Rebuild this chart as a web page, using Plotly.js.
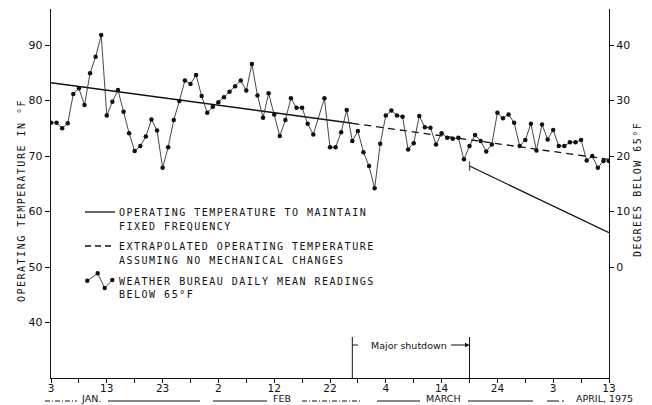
<!DOCTYPE html>
<html>
<head>
<meta charset="utf-8">
<script src="https://cdn.plot.ly/plotly-3.0.1.min.js"></script>
<style>
  html, body { margin: 0; padding: 0; background: #fff; }
  text[style*="DejaVu Sans Mono"] { letter-spacing: 1.5px; }
</style>
</head>
<body>
<div id="chart" style="width:652px;height:405px;"></div>
<script>
// ---- data ----
const firstReadingDate = '1975-01-03';
// Weather Bureau daily mean readings, degrees below 65°F (right axis), one per day
const degreesBelow65 = [
  26.0, 26.0, 25.0, 25.9, 31.2, 32.2, 29.2, 34.9, 37.9, 41.8,
  27.3, 29.8, 31.9, 28.0, 24.1, 20.9, 21.8, 23.5, 26.6, 24.6,
  17.9, 21.6, 26.5, 29.9, 33.6, 33.0, 34.6, 30.8, 27.8, 28.9,
  29.7, 30.6, 31.6, 32.6, 33.6, 31.8, 36.6, 30.9, 26.9, 31.3,
  27.5, 23.6, 26.5, 30.4, 28.7, 28.7, 25.8, 23.9, null, 30.4,
  21.6, 21.6, 24.3, 28.3, 22.7, 24.5, 20.7, 18.2, 14.2, 22.2,
  27.3, 28.2, 27.3, 27.1, 21.2, 22.3, 27.2, 25.2, 25.1, 22.1,
  24.1, 23.3, 23.1, 23.3, 19.4, 21.8, 23.8, 22.7, 20.8, 22.1,
  27.8, 26.8, 27.5, 26.0, 21.8, 22.9, 25.8, 21.0, 25.7, 23.0,
  24.7, 21.8, 21.8, 22.5, 22.5, 22.9, 19.2, 20.0, 17.9, 19.1, 19.1
];
// Operating temperature (left axis, °F)
const fixedFreqDates = ['1975-01-03', '1975-02-26'];
const fixedFreqTemps = [83.2, 75.9];
const extrapolatedDates = ['1975-02-26', '1975-04-13'];
const extrapolatedTemps = [75.9, 69.4];
const afterShutdownDates = ['1975-03-19', '1975-04-13'];
const afterShutdownTemps = [68.2, 56.2];
const shutdownStart = '1975-02-26';
const shutdownEnd = '1975-03-19';

// axis ticks
const xTickDates = ['1975-01-03','1975-01-13','1975-01-23','1975-02-02','1975-02-12','1975-02-22',
                    '1975-03-04','1975-03-14','1975-03-24','1975-04-03','1975-04-13'];
const xTickLabels = ['3','13','23','2','12','22','4','14','24','3','13'];
const xMinorDates = ['1975-01-08','1975-01-18','1975-01-28','1975-02-07','1975-02-17','1975-02-27',
                     '1975-03-09','1975-03-19','1975-03-29','1975-04-08'];
const leftTicks = [40, 50, 60, 70, 80, 90];
const rightTicks = [0, 10, 20, 30, 40];
const monthLabels = ['JAN.', 'FEB', 'MARCH', 'APRIL, 1975'];

// ---- build ----
function addDays(iso, n) {
  const d = new Date(iso + 'T00:00:00Z');
  d.setUTCDate(d.getUTCDate() + n);
  return d.toISOString().slice(0, 10);
}
const readingDates = degreesBelow65.map((_, i) => addDays(firstReadingDate, i));

const BLK = '#111';
const traces = [
  { x: fixedFreqDates, y: fixedFreqTemps, mode: 'lines', yaxis: 'y',
    line: { color: BLK, width: 1.5 }, hoverinfo: 'skip' },
  { x: extrapolatedDates, y: extrapolatedTemps, mode: 'lines', yaxis: 'y',
    line: { color: BLK, width: 1.3, dash: '7px,5px' }, hoverinfo: 'skip' },
  { x: afterShutdownDates, y: afterShutdownTemps, mode: 'lines+markers', yaxis: 'y',
    line: { color: BLK, width: 1.3 },
    marker: { symbol: 'line-ns', size: [7, 0], line: { width: 1.2, color: BLK } }, hoverinfo: 'skip' },
  { x: readingDates, y: degreesBelow65, mode: 'lines+markers', yaxis: 'y2', connectgaps: true,
    line: { color: '#333', width: 0.9 }, marker: { color: BLK, size: 4.5 } }
];

const W = 652, H = 405, L = 51, R = 43, T = 9, B = 27;
const pw = W - L - R, ph = H - T - B;
const px = v => (v - L) / pw;      // pixel -> paper x
const py = v => (H - B - v) / ph;  // pixel -> paper y

const mono = { family: 'DejaVu Sans Mono', size: 10, color: BLK };
const sans = { family: 'DejaVu Sans', size: 9.5, color: BLK };

const annotations = [];
function note(text, x, y, font, extra) {
  annotations.push(Object.assign({ text, x, y, xref: 'paper', yref: 'paper', showarrow: false,
    xanchor: 'left', yanchor: 'middle', font }, extra || {}));
}
// legend text
note('OPERATING TEMPERATURE TO MAINTAIN', px(116.5), py(212.5), mono);
note('FIXED FREQUENCY', px(116.5), py(226), mono);
note('EXTRAPOLATED OPERATING TEMPERATURE', px(116.5), py(246), mono);
note('ASSUMING NO MECHANICAL CHANGES', px(116.5), py(260), mono);
note('WEATHER BUREAU DAILY MEAN READINGS', px(116.5), py(281), mono);
note('BELOW 65°F', px(116.5), py(294.5), mono);
// axis titles
note('OPERATING TEMPERATURE IN °F', px(22), py(201), mono, { textangle: -90, xanchor: 'center' });
note('DEGREES BELOW 65°F', px(637), py(190), mono, { textangle: -90, xanchor: 'center' });
// month labels
const monthOpts = { yanchor: 'bottom', borderpad: 0 };
note(monthLabels[0], px(91), py(405), sans, Object.assign({ xanchor: 'center' }, monthOpts));
note(monthLabels[1], px(281.5), py(405), sans, Object.assign({ xanchor: 'center' }, monthOpts));
note(monthLabels[2], px(443), py(405), sans, Object.assign({ xanchor: 'center' }, monthOpts));
note(monthLabels[3], px(575), py(405), sans, monthOpts);
// shutdown
note('Major shutdown', px(369), py(345), { family: 'DejaVu Sans', size: 9.5, color: BLK });
annotations.push({ x: shutdownEnd, y: py(345), xref: 'x', yref: 'paper', text: '', showarrow: true,
  ax: -20, ay: 0, arrowhead: 2, arrowsize: 0.9, arrowwidth: 1, arrowcolor: BLK, standoff: 0 });

const shapes = [];
function pline(x0, y0, x1, y1, dash, w) {
  shapes.push({ type: 'line', xref: 'paper', yref: 'paper', x0: px(x0), y0: py(y0), x1: px(x1), y1: py(y1),
    line: { color: BLK, width: w || 1, dash: dash || 'solid' } });
}
// legend samples
pline(85, 212, 115, 212, 'solid', 1.3);
pline(85, 246, 115, 246, '6px,4px', 1.3);
const zz = [[87.3, 280.7], [97.7, 273.3], [104.7, 288], [112.3, 280]];
shapes.push({ type: 'path', xref: 'paper', yref: 'paper',
  path: 'M' + zz.map(p => px(p[0]) + ',' + py(p[1])).join(' L'),
  line: { color: '#333', width: 0.9 } });
zz.forEach(p => shapes.push({ type: 'circle', xref: 'paper', yref: 'paper',
  x0: px(p[0] - 2.2), x1: px(p[0] + 2.2), y0: py(p[1] + 2.2), y1: py(p[1] - 2.2),
  fillcolor: BLK, line: { color: BLK, width: 0 } }));
// month rule lines
pline(45, 401, 77, 401, '5px,2px,1px,2px', 1);
pline(108, 401, 200, 401, 'solid', 1);
pline(213, 401, 267, 401, 'solid', 1);
pline(302, 401, 362, 401, '5px,2px,1px,2px', 1);
pline(377, 401, 420, 401, 'solid', 1);
pline(468, 401, 533, 401, 'solid', 1);
pline(547, 401, 567, 401, '12px,3px,2px,3px', 1);
// shutdown markers
[shutdownStart, shutdownEnd].forEach(d => shapes.push({ type: 'line', xref: 'x', yref: 'paper',
  x0: d, x1: d, y0: 0, y1: py(337), line: { color: BLK, width: 1 } }));
shapes.push({ type: 'line', xref: 'x', yref: 'paper', x0: shutdownStart, x1: '1975-02-27',
  y0: py(345), y1: py(345), line: { color: BLK, width: 1 } });

const tickFont = { family: 'DejaVu Sans', size: 11, color: BLK };
const layout = {
  width: W, height: H, autosize: false,
  margin: { l: L, r: R, t: T, b: B, pad: 0 },
  paper_bgcolor: '#fff', plot_bgcolor: '#fff',
  showlegend: false,
  xaxis: {
    type: 'date', range: [firstReadingDate, '1975-04-13'],
    tickmode: 'array', tickvals: xTickDates, ticktext: xTickLabels,
    ticks: 'outside', ticklen: 4, tickwidth: 1, tickcolor: BLK, ticklabelstandoff: -4,
    minor: { tickmode: 'array', tickvals: xMinorDates, ticks: 'outside', ticklen: 4, tickwidth: 1, tickcolor: BLK, showgrid: false },
    showline: true, linecolor: BLK, linewidth: 1.2,
    showgrid: false, zeroline: false, fixedrange: true,
    tickfont: { family: 'DejaVu Sans', size: 10.5, color: BLK }
  },
  yaxis: {
    range: [30, 96.5], tickmode: 'array', tickvals: leftTicks,
    ticks: 'outside', ticklen: 5, tickwidth: 1, tickcolor: BLK,
    showline: true, linecolor: BLK, linewidth: 1.2,
    showgrid: false, zeroline: false, tickfont: tickFont, fixedrange: true
  },
  yaxis2: {
    overlaying: 'y', side: 'right', range: [-20, 46.5], tickmode: 'array', tickvals: rightTicks,
    ticks: 'outside', ticklen: 4, tickwidth: 1, tickcolor: BLK,
    showline: true, linecolor: BLK, linewidth: 1,
    showgrid: false, zeroline: false, tickfont: tickFont, fixedrange: true
  },
  annotations, shapes
};

Plotly.newPlot('chart', traces, layout, { displayModeBar: false, staticPlot: true });
</script>
</body>
</html>
